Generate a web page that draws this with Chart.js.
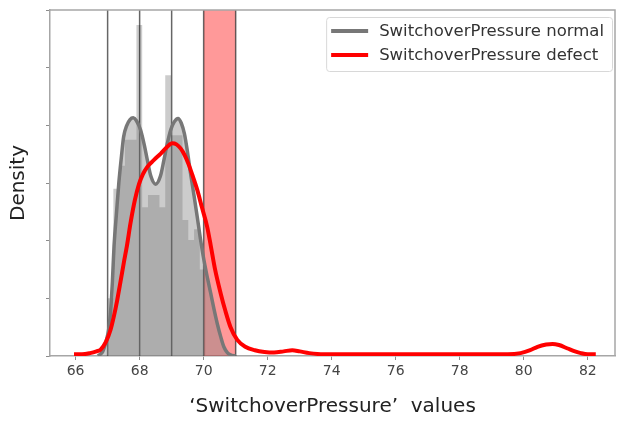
<!DOCTYPE html>
<html lang="en">
<head>
<meta charset="UTF-8">
<title>SwitchoverPressure density</title>
<script src="https://cdn.jsdelivr.net/npm/chart.js"></script>
<style>
  html, body { margin: 0; padding: 0; background: #fff; }
</style>
</head>
<body>
<canvas id="density-chart" width="619" height="421"></canvas>
<script>
// x axis ticks (pressure values)
const xTicks = [66, 68, 70, 72, 74, 76, 78, 80, 82];

// KDE of the normal parts
const normalX = [66.70, 66.85, 66.95, 67.03, 67.09, 67.15, 67.20, 67.28, 67.35, 67.43, 67.50, 67.60, 67.70, 67.80,
    67.90, 68.03, 68.15, 68.24, 68.35, 68.50, 68.65, 68.76, 68.87, 68.97, 69.08, 69.20, 69.30, 69.40, 69.50, 69.59,
    69.70, 69.80, 69.90, 70.01, 70.12, 70.22, 70.32, 70.43, 70.53, 70.63, 70.74, 70.84, 71.00];
const normalY = [0, 0.008, 0.025, 0.045, 0.075, 0.13, 0.19, 0.25, 0.30, 0.345, 0.38, 0.400, 0.410, 0.413,
    0.408, 0.392, 0.365, 0.340, 0.312, 0.298, 0.312, 0.340, 0.370, 0.392, 0.406, 0.412, 0.404, 0.385, 0.352, 0.317,
    0.278, 0.241, 0.203, 0.166, 0.135, 0.109, 0.082, 0.055, 0.034, 0.016, 0.006, 0.002, 0];

// KDE of the defect parts
const defectX = [65.95, 66.20, 66.45, 66.65, 66.78, 66.95, 67.09, 67.20, 67.30, 67.40, 67.51, 67.60, 67.72, 67.85,
    67.98, 68.10, 68.24, 68.45, 68.66, 68.85, 69.02, 69.15, 69.28, 69.41, 69.54, 69.67, 69.80, 69.95, 70.11, 70.22,
    70.35, 70.53, 70.68, 70.84, 71.05, 71.30, 71.60, 71.90, 72.20, 72.50, 72.77, 73.00, 73.30, 73.75, 74.50, 76.00,
    78.00, 79.50, 79.90, 80.20, 80.43, 80.70, 80.90, 81.10, 81.37, 81.60, 81.78, 82.00, 82.25];
const defectY = [0.003, 0.003, 0.005, 0.008, 0.011, 0.025, 0.045, 0.070, 0.097, 0.128, 0.163, 0.190, 0.232, 0.270,
    0.298, 0.315, 0.328, 0.340, 0.351, 0.362, 0.369, 0.367, 0.360, 0.348, 0.331, 0.310, 0.288, 0.257, 0.224, 0.192,
    0.152, 0.109, 0.078, 0.050, 0.028, 0.016, 0.010, 0.007, 0.006, 0.008, 0.010, 0.008, 0.005, 0.003, 0.003, 0.003,
    0.003, 0.003, 0.005, 0.010, 0.016, 0.020, 0.021, 0.019, 0.013, 0.008, 0.005, 0.003, 0.003];

// histogram of the normal parts (bin edges + density per bin)
const histEdges = [67.00, 67.18, 67.36, 67.54, 67.72, 67.90, 68.08, 68.26, 68.44, 68.62, 68.80, 68.98, 69.16,
    69.34, 69.52, 69.70, 69.88, 70.06];
const histHeights = [0.10, 0.29, 0.33, 0.375, 0.375, 0.574, 0.258, 0.279, 0.279, 0.258, 0.487, 0.383, 0.383,
    0.236, 0.201, 0.22, 0.15];

// reference lines and the defect window
const markerLines = [67, 68, 69, 70, 71];
const defectBand = [70, 71];

const yMax = 0.6;

const histPoints = [{x: histEdges[0], y: 0}];
histHeights.forEach((h, i) => histPoints.push({x: histEdges[i], y: h}));
histPoints.push({x: histEdges[histEdges.length - 1], y: 0});

const toPoints = (xs, ys) => xs.map((x, i) => ({x: x, y: ys[i]}));

// top and right spines
const frame = {
    id: 'frame',
    afterDatasetsDraw(chart) {
        const {ctx, chartArea: a} = chart;
        ctx.save();
        ctx.strokeStyle = '#a6a6a6';
        ctx.lineWidth = 1.5;
        ctx.beginPath();
        ctx.moveTo(a.left, a.top);
        ctx.lineTo(a.right, a.top);
        ctx.lineTo(a.right, a.bottom);
        ctx.stroke();
        ctx.restore();
    }
};

// legend box in the upper right corner
const legendBox = {
    id: 'legendBox',
    afterDraw(chart) {
        const {ctx, chartArea: a} = chart;
        const items = chart.data.datasets.filter(d => d.legendEntry)
            .sort((p, q) => p.legendEntry - q.legendEntry);
        ctx.save();
        ctx.font = '16.5px "DejaVu Sans"';
        const textW = Math.max(...items.map(d => ctx.measureText(d.label).width));
        const w = 53 + textW + 8, h = 54;
        const x = a.right - 3 - w, y = a.top + 7;
        ctx.fillStyle = 'rgba(255,255,255,0.8)';
        ctx.strokeStyle = '#d8d8d8';
        ctx.lineWidth = 1;
        ctx.beginPath();
        ctx.roundRect(x + 0.5, y + 0.5, w, h, 3);
        ctx.fill();
        ctx.stroke();
        items.forEach((d, i) => {
            const cy = y + 14 + i * 24;
            ctx.strokeStyle = d.borderColor;
            ctx.lineWidth = 4;
            ctx.beginPath();
            ctx.moveTo(x + 5, cy);
            ctx.lineTo(x + 42, cy);
            ctx.stroke();
            ctx.fillStyle = '#333';
            ctx.textBaseline = 'middle';
            ctx.fillText(d.label, x + 53, cy + 1);
        });
        ctx.restore();
    }
};

Chart.defaults.font.family = '"DejaVu Sans", sans-serif';

const datasets = [
    {
        label: 'SwitchoverPressure defect',
        legendEntry: 2,
        data: toPoints(defectX, defectY),
        borderColor: '#ff0000',
        borderWidth: 4,
        fill: false,
        cubicInterpolationMode: 'monotone',
        order: 0
    },
    {
        label: 'SwitchoverPressure normal',
        legendEntry: 1,
        data: toPoints(normalX, normalY),
        borderColor: '#777777',
        backgroundColor: 'rgba(128,128,128,0.4)',
        borderWidth: 3.5,
        fill: 'origin',
        cubicInterpolationMode: 'monotone',
        order: 1
    }
];

markerLines.forEach(v => {
    datasets.push({
        label: 'line ' + v,
        data: [{x: v, y: 0}, {x: v, y: yMax}],
        borderColor: 'rgba(0,0,0,0.6)',
        borderWidth: 1.5,
        fill: false,
        order: 2
    });
});

datasets.push({
    label: 'defect window',
    data: [{x: defectBand[0], y: yMax}, {x: defectBand[1], y: yMax}],
    borderWidth: 0,
    backgroundColor: 'rgba(255,0,0,0.4)',
    fill: 'origin',
    order: 3
});

datasets.push({
    label: 'histogram',
    data: histPoints,
    stepped: 'before',
    borderWidth: 0,
    backgroundColor: 'rgba(128,128,128,0.4)',
    fill: 'origin',
    order: 4
});

new Chart(document.getElementById('density-chart'), {
    type: 'line',
    data: {datasets: datasets},
    options: {
        responsive: false,
        animation: false,
        layout: {padding: {top: 10, right: 4, left: 0, bottom: 0}},
        elements: {point: {radius: 0}},
        plugins: {legend: {display: false}, tooltip: {enabled: false}},
        scales: {
            x: {
                type: 'linear',
                min: 65.2,
                max: 82.85,
                afterBuildTicks: axis => { axis.ticks = xTicks.map(v => ({value: v})); },
                afterFit: scale => { scale.height = 65; },
                grid: {drawOnChartArea: false, drawTicks: true, tickLength: 4, color: '#8c8c8c'},
                border: {display: true, color: '#a6a6a6', width: 1.5},
                ticks: {color: '#444', padding: 3, font: {size: 14}, maxRotation: 0},
                title: {
                    display: true,
                    text: '‘SwitchoverPressure’  values',
                    color: '#222',
                    font: {size: 20, lineHeight: 1.2},
                    padding: {top: 0, bottom: 2}
                }
            },
            y: {
                min: 0,
                max: yMax,
                afterFit: scale => { scale.width = 50; },
                grid: {drawOnChartArea: false, drawTicks: true, tickLength: 4, color: '#8c8c8c'},
                border: {display: true, color: '#a6a6a6', width: 1.5},
                ticks: {display: false, stepSize: 0.1},
                title: {
                    display: true,
                    text: 'Density',
                    color: '#222',
                    font: {size: 20, lineHeight: 1.2},
                    padding: {top: 7, bottom: 0}
                }
            }
        }
    },
    plugins: [frame, legendBox]
});
</script>
</body>
</html>
